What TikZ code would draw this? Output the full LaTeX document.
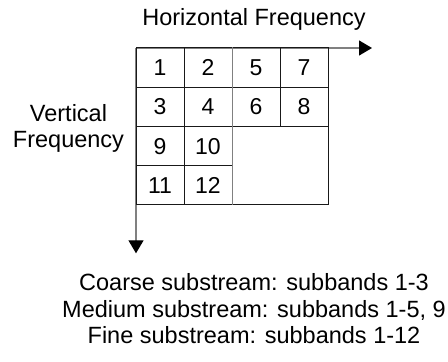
\documentclass[tikz,border=0pt]{standalone}
\usepackage{fontspec}
\setmainfont{Liberation Sans}
\usetikzlibrary{arrows.meta}

\begin{document}
\begin{tikzpicture}[x=1pt, y=1pt]
  \tikzstyle{case}=[draw=black!90, line width=1pt, minimum width=48pt, minimum height=39.25pt, inner sep=0, font=\fontsize{23}{26}\selectfont];
  \tikzstyle{axe}=[draw=black!50, line width=1.3pt, -{Triangle[length=13pt, width=15pt, color=black, fill=black]}];
  \tikzstyle{texte}=[align=center, inner sep=0, anchor=base, font=\fontsize{23.5}{26.5}\selectfont];

  \useasboundingbox (0, 0) rectangle (448, 362);

  \coordinate (O) at (136, 314);
  \coordinate (H) at (372, 314);
  \coordinate (V) at (136, 108.7);

  \draw[axe] (O) -- (H);
  \draw[axe] (O) -- (V);

  \foreach \n/\x/\y in {1/160/294.375, 2/208/294.375, 5/256/294.375, 7/304/294.375,
                        3/160/255.125, 4/208/255.125, 6/256/255.125, 8/304/255.125,
                        9/160/215.875, 10/208/215.875,
                        11/160/176.625, 12/208/176.625} {
    \node[case] (b\n) at (\x, \y) {\n};
  }
  \node[case, minimum width=96pt, minimum height=78.5pt] (reste) at (280, 196.25) {};
  \draw[draw=black!50, line width=1.6pt] (b2.north east) -- (b12.south east);

  \draw (254, 336) node[texte] (horiz) {Horizontal Frequency};
  \draw (68.5, 214.7) node[texte, font=\fontsize{23.5}{25.6}\selectfont] (vert) {Vertical\\Frequency};
  \draw (254, 18) node[texte] (flux) {Coarse substream: subbands 1-3\\Medium substream: subbands 1-5, 9\\Fine substream: subbands 1-12};
\end{tikzpicture}
\end{document}
